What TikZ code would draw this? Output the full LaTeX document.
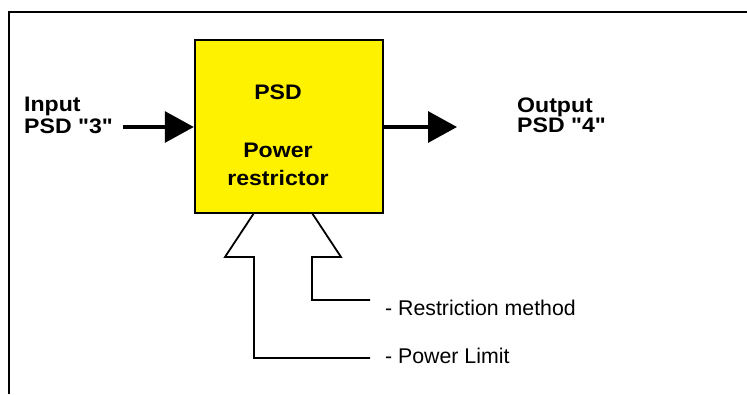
\documentclass[tikz,border=0pt]{standalone}
\usepackage{fontspec}
\setmainfont{Liberation Sans}[Ligatures=TeXOff]
\newfontfamily\wbold{Liberation Sans Bold}[FakeStretch=1.1, Ligatures=TeXOff]
\usetikzlibrary{arrows.meta}
\begin{document}
\begin{tikzpicture}[x=1pt,y=-1pt,
  lbl/.style={font=\fontsize{21}{21}\selectfont\wbold, anchor=base west, inner sep=0pt},
  note/.style={font=\fontsize{21.3}{21}\selectfont, anchor=base west, inner sep=0pt},
  boxtxt/.style={font=\fontsize{21}{21}\selectfont\wbold, anchor=base, inner sep=0pt},
  bigarrow/.style={line width=3.2pt, -{Triangle[length=29pt,width=31pt]}},
  hollow/.style={line width=1.8pt, line join=miter}]
\useasboundingbox (0,0) rectangle (747,394);
% frame (top and left edges)
\draw[line width=1.2pt] (9,394) -- (9,12) -- (747,12);
% main box
\node[draw, line width=2.4pt, fill=yellow, minimum width=188pt, minimum height=173pt, inner sep=0pt]
  (psd) at (289,126.5) {};
\node[boxtxt] (t1) at (278,99) {PSD};
\node[boxtxt] (t2) at (278,157) {Power};
\node[boxtxt] (t3) at (278,185) {restrictor};
% input
\node[lbl] (in1) at (24,111.7) {Input};
\node[lbl] (in2) at (24,133) {PSD "3"};
\coordinate (instart) at (123,127);
\draw[bigarrow] (instart) -- (psd.west |- instart);
% output
\node[lbl] (out1) at (517,112) {Output};
\node[lbl] (out2) at (517,132) {PSD "4"};
\coordinate (outend) at (457,127);
\draw[bigarrow] (psd.east |- outend) -- (outend);
% notes
\node[note] (n1) at (385,315) {- Restriction method};
\node[note] (n2) at (385,363) {- Power Limit};
% hollow input arrow
\draw[hollow] (n2.west |- 0,358) ++(-15,0) -- (254,358) -- (254,257) -- (225,257) -- (254,213);
\draw[hollow] (312,213) -- (341,257) -- (312,257) -- (312,300) -- (370,300);
\end{tikzpicture}
\end{document}
